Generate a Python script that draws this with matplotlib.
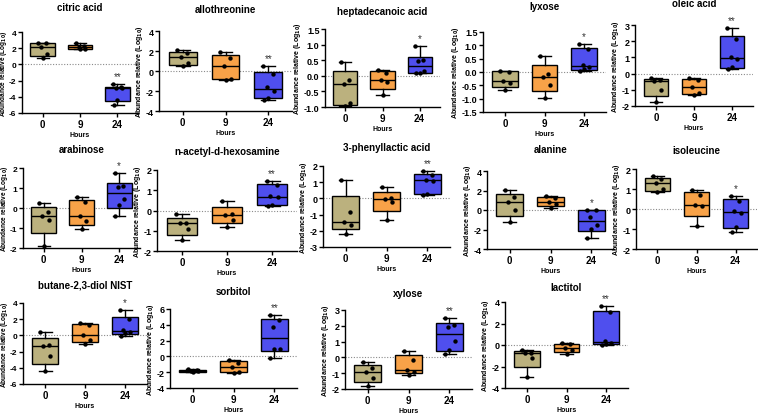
import numpy as np
import matplotlib.pyplot as plt

plt.rcParams['font.family'] = ['Liberation Sans', 'DejaVu Sans']
plt.rcParams['font.weight'] = 'bold'
plt.rcParams['mathtext.default'] = 'bf'

# ===== Data (log10 relative abundance, groups at 0 / 9 / 24 hours) =====
hours = ['0', '9', '24']

citric_acid = [[2.65, 2.6, 2.2, 1.3, 0.8], [2.6, 2.25, 2.2, 1.9, 1.85],
               [-2.45, -2.85, -2.9, -2.95, -4.4, -5.0]]
allothreonine = [[2.1, 1.8, 1.4, 0.8, 0.5], [1.9, 1.3, 0.55, -0.8, -0.85],
                 [0.5, -0.25, -1.55, -2.0, -2.7, -2.85]]
heptadecanoic_acid = [[0.43, -0.12, -0.25, -0.88, -0.96], [0.2, 0.1, -0.13, -0.2, -0.62],
                      [0.97, 0.5, 0.47, 0.15, 0.1, 0.08]]
lyxose = [[0.05, 0.0, -0.35, -0.42, -0.68], [0.6, -0.06, -0.18, -0.47, -0.97],
          [1.05, 0.85, 0.25, 0.2, 0.1, 0.02]]
oleic_acid = [[-0.3, -0.4, -0.45, -1.0, -1.75], [-0.3, -0.4, -0.8, -1.2, -1.35],
              [2.8, 2.15, 1.0, 0.9, 0.4, 0.3]]
arabinose = [[0.27, -0.2, -0.42, -0.6, -1.9], [0.55, 0.3, -0.42, -0.65, -1.03],
             [1.75, 1.1, 1.05, 0.43, 0.13, -0.42]]
n_acetyl_d_hexosamine = [[-0.15, -0.6, -0.63, -0.9, -1.48], [0.48, -0.15, -0.23, -0.47, -0.8],
                         [1.47, 1.28, 0.73, 0.65, 0.26, 0.22]]
phenyllactic_acid = [[1.15, -0.85, -1.48, -1.62, -2.17], [0.7, 0.05, -0.05, -0.22, -1.32],
                     [1.67, 1.46, 1.15, 1.07, 0.29, 0.19]]
alanine = [[2.05, 1.3, 0.8, 0.05, -1.25], [1.4, 1.25, 0.8, 0.6, 0.25],
           [0.0, -0.02, -0.75, -1.5, -1.95, -2.9]]
isoleucine = [[1.63, 1.5, 1.3, 1.0, 0.83], [0.97, 0.7, 0.2, 0.13, -0.87],
              [0.67, 0.42, -0.12, -0.22, -0.88, -1.17]]
butanediol = [[0.45, -1.15, -1.25, -2.55, -4.4], [1.55, 1.3, 0.1, -0.55, -1.05],
              [3.15, 2.0, 0.62, 0.42, 0.3, -0.1]]
sorbitol = [[-1.65, -1.75, -1.85, -1.9, -1.95], [-0.42, -0.85, -1.4, -2.0, -2.05],
            [5.3, 4.6, 3.7, 1.0, 0.95, -0.15]]
xylose = [[-0.3, -0.65, -0.95, -1.3, -1.8], [0.42, -0.17, -0.8, -0.92, -1.1],
          [2.5, 2.05, 1.9, 1.02, 0.5, 0.22]]
lactitol = [[-0.45, -0.7, -0.78, -1.17, -3.0], [0.22, 0.05, -0.3, -0.45, -0.85],
            [3.6, 3.07, 0.4, 0.2, 0.08, 0.04]]

titles = ['citric acid', 'allothreonine', 'heptadecanoic acid', 'lyxose', 'oleic acid',
          'arabinose', 'n-acetyl-d-hexosamine', '3-phenyllactic acid', 'alanine', 'isoleucine',
          'butane-2,3-diol NIST', 'sorbitol', 'xylose', 'lactitol']
datasets = [citric_acid, allothreonine, heptadecanoic_acid, lyxose, oleic_acid,
            arabinose, n_acetyl_d_hexosamine, phenyllactic_acid, alanine, isoleucine,
            butanediol, sorbitol, xylose, lactitol]
stars = ['**', '**', '*', '*', '**', '*', '**', '**', '*', '*', '*', '**', '**', '**']
yticks = [np.arange(-6, 5, 2), np.arange(-4, 5, 2), np.arange(-1.0, 1.6, 0.5),
          np.arange(-1.5, 1.6, 0.5), np.arange(-2, 4, 1), np.arange(-2, 3, 1),
          np.arange(-2, 3, 1), np.arange(-3, 3, 1), np.arange(-4, 5, 2), np.arange(-2, 3, 1),
          np.arange(-6, 5, 2), np.arange(-4, 7, 2), np.arange(-2, 4, 1), np.arange(-4, 5, 2)]

# ===== Layout (pixel boxes: left, top, right, bottom; title centre y) =====
W, H = 758, 414
boxes = [(22, 33, 138, 114), (159, 32, 292, 112), (325, 30, 440, 108), (483, 33, 606, 113),
         (635, 26, 753, 107),
         (23, 169, 140, 249), (157, 171, 297, 252), (323, 167, 450, 248), (487, 172, 614, 250),
         (636, 170, 757, 250),
         (23, 304, 147, 385), (170, 310, 297, 389), (345, 311, 472, 390), (505, 303, 628, 389)]
title_y = [8, 10, 12, 7, 4, 150, 152, 148, 150, 151, 286, 292, 294, 288]
colors = ['#BBB17E', '#F8A248', '#4F4FEE']
jitter = [-0.12, 0.1, -0.04, 0.13, 0.0, -0.1]

fig = plt.figure(figsize=(W / 100, H / 100), dpi=100)


def wq(vals, p):
    # GraphPad-style quartiles
    return np.percentile(vals, p, method='weibull')


for i, data in enumerate(datasets):
    l, t, r, b = boxes[i]
    ax = fig.add_axes([l / W, 1 - b / H, (r - l) / W, (b - t) / H])
    stats = []
    for g in data:
        stats.append(dict(med=np.median(g), q1=wq(g, 25), q3=wq(g, 75),
                          whislo=min(g), whishi=max(g), fliers=[]))
    bp = ax.bxp(stats, positions=[0, 1, 2], widths=0.65, patch_artist=True,
                showfliers=False,
                boxprops=dict(edgecolor='black', linewidth=1.0),
                medianprops=dict(color='black', linewidth=1.0),
                whiskerprops=dict(color='black', linewidth=1.0),
                capprops=dict(color='black', linewidth=1.0))
    for patch, c in zip(bp['boxes'], colors):
        patch.set_facecolor(c)
    for k, g in enumerate(data):
        xs = [k + jitter[j % len(jitter)] for j in range(len(g))]
        ax.scatter(xs, g, s=10, color='black', zorder=4, linewidths=0)

    ax.axhline(0, color='#8a8a8a', ls=(0, (1, 1.5)), lw=0.8, zorder=0.5)
    ax.annotate(stars[i], xy=(2, max(data[2])), xytext=(0, 2), textcoords='offset points',
                ha='center', va='bottom', fontsize=7, fontweight='normal', color='#333333')

    yt = yticks[i]
    ax.set_ylim(yt[0], yt[-1])
    ax.set_yticks(yt)
    decimals = yt[1] - yt[0] < 1
    if decimals:
        ax.set_yticklabels([f'{v:.1f}' for v in yt])
    else:
        ax.set_yticklabels([f'{int(round(v))}' for v in yt])
    ax.set_xlim(-0.55, 2.55)
    ax.set_xticks([0, 1, 2])
    ax.set_xticklabels(hours)

    for s in ['top', 'right']:
        ax.spines[s].set_visible(False)
    for s in ['left', 'bottom']:
        ax.spines[s].set_linewidth(1.0)
    ax.tick_params(axis='both', length=3, width=1.0, labelsize=7, pad=1.5)
    ax.tick_params(axis='y', labelsize=6.5 if l > 100 else 6, pad=1)
    ax.set_xlabel('Hours', fontsize=5, fontweight='bold', labelpad=1.2)
    ax.set_ylabel(r'Abundance relative (Log$_{10}$)', fontsize=5 if l > 100 else 4.7,
                  fontweight='bold')
    # y label sits right next to the tick labels (coordinate = right edge of label)
    if decimals:
        off = 22
    elif l > 100:
        off = 14
    else:
        off = 12.5
    ax.yaxis.set_label_coords(-off / (r - l), 0.5)
    fig.text((l + r) / 2 / W, 1 - title_y[i] / H, titles[i], ha='center', va='center',
             fontsize=7, fontweight='bold')

fig.savefig('out.png', dpi=100)
